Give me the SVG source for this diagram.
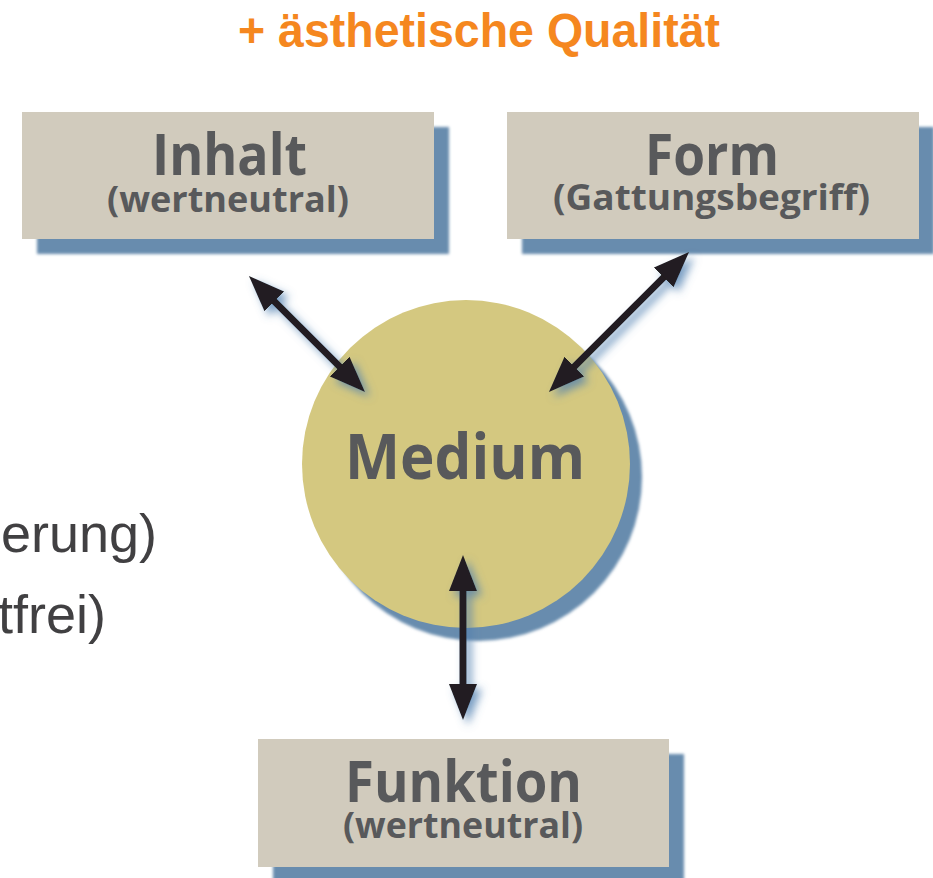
<svg xmlns="http://www.w3.org/2000/svg" width="933" height="878" viewBox="0 0 933 878">
<defs>
<style>
.box{fill:#d1cbbd}
.shadow{fill:#688cae;filter:url(#soft)}
.title{font-family:"Open Sans","Noto Sans",sans-serif;font-weight:700;fill:#58595b;text-anchor:middle}
.sub{font-family:"Open Sans","Noto Sans",sans-serif;font-weight:700;fill:#58595b;text-anchor:middle}
.side{font-family:"Liberation Sans",Arial,sans-serif;font-size:54px;fill:#414042;text-anchor:end}
.arrow{stroke:#231f20;stroke-width:7;fill:none;marker-start:url(#head);marker-end:url(#head)}
</style>
<filter id="soft" x="-10%" y="-10%" width="120%" height="120%">
<feGaussianBlur stdDeviation="1.5"/>
</filter>
<filter id="glow" x="-30%" y="-30%" width="160%" height="160%">
<feGaussianBlur in="SourceAlpha" stdDeviation="4" result="b"/>
<feOffset in="b" dx="5" dy="5" result="o"/>
<feFlood flood-color="#4f7fb0" flood-opacity="0.75"/>
<feComposite in2="o" operator="in" result="s"/>
<feMerge><feMergeNode in="s"/><feMergeNode in="SourceGraphic"/></feMerge>
</filter>
<marker id="head" markerUnits="userSpaceOnUse" markerWidth="36" markerHeight="28" viewBox="0 0 36 28" refX="16" refY="14" orient="auto-start-reverse">
<path d="M0,0 L36,14 L0,28 Z" fill="#231f20"/>
</marker>
</defs>
<rect width="933" height="878" fill="#ffffff"/>

<text x="479" y="47" font-family="'Liberation Sans',Arial,sans-serif" font-weight="700" font-size="48" fill="#f5871f" text-anchor="middle" textLength="482" lengthAdjust="spacingAndGlyphs">+ ästhetische Qualität</text>

<text class="side" x="157" y="552">erung)</text>
<text class="side" x="106" y="633">tfrei)</text>

<g id="inhalt">
<rect class="shadow" x="37" y="127" width="412" height="127"/>
<rect class="box" x="22" y="112" width="412" height="127"/>
<text class="title" x="229.5" y="175" font-size="58" textLength="155" lengthAdjust="spacingAndGlyphs">Inhalt</text>
<text class="sub" x="228" y="212" font-size="35" textLength="242" lengthAdjust="spacingAndGlyphs">(wertneutral)</text>
</g>

<g id="form">
<rect class="shadow" x="522" y="127" width="412" height="127"/>
<rect class="box" x="507" y="112" width="412" height="127"/>
<text class="title" x="712" y="175" font-size="58" textLength="134" lengthAdjust="spacingAndGlyphs">Form</text>
<text class="sub" x="711.5" y="210" font-size="35" textLength="317" lengthAdjust="spacingAndGlyphs">(Gattungsbegriff)</text>
</g>

<g id="medium">
<circle cx="478" cy="477" r="164" fill="#688cae" filter="url(#soft)"/>
<circle cx="466" cy="464" r="164" fill="#d4c880"/>
<text class="title" x="465" y="479" font-size="63" textLength="240" lengthAdjust="spacingAndGlyphs">Medium</text>
</g>

<g id="funktion">
<rect class="shadow" x="273" y="754" width="411" height="128"/>
<rect class="box" x="258" y="739" width="411" height="128"/>
<text class="title" x="463.5" y="802" font-size="58" textLength="237" lengthAdjust="spacingAndGlyphs">Funktion</text>
<text class="sub" x="463" y="838" font-size="35" textLength="240" lengthAdjust="spacingAndGlyphs">(wertneutral)</text>
</g>

<g id="connectors" filter="url(#glow)">
<line class="arrow" x1="263.1" y1="290.1" x2="350.9" y2="377.9"/>
<line class="arrow" x1="674.9" y1="266.1" x2="563.1" y2="377.9"/>
<line class="arrow" x1="463" y1="575" x2="463" y2="700"/>
</g>
</svg>
